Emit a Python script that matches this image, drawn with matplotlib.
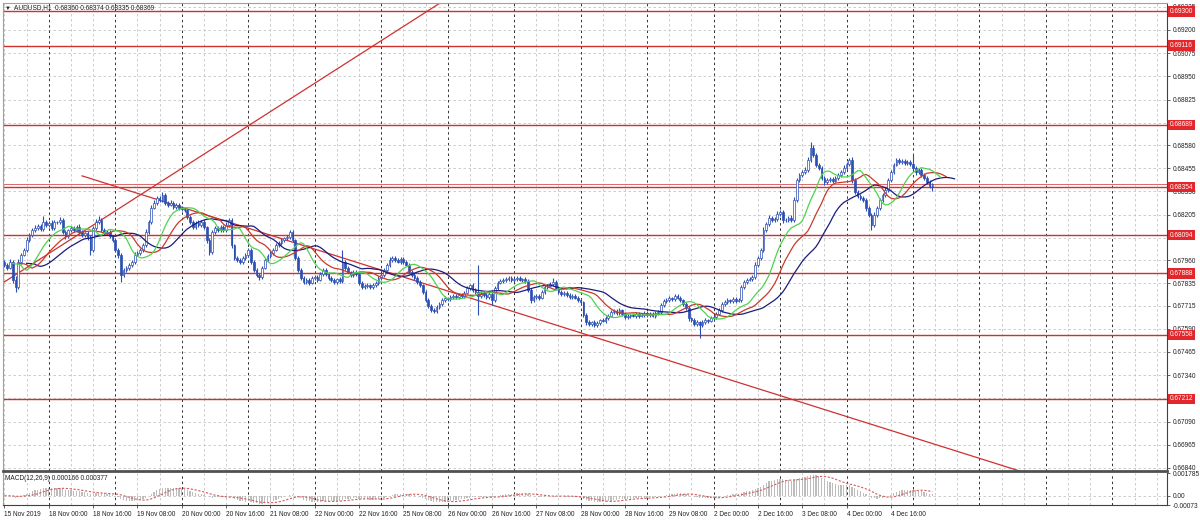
import matplotlib
matplotlib.use("Agg")
import matplotlib.pyplot as plt
import numpy as np
import pandas as pd

plt.rcParams['font.family'] = ['Liberation Sans', 'DejaVu Sans']

symbol_text = "AUDUSD,H1  0.68360 0.68374 0.68335 0.68369"
macd_text = "MACD(12,26,9) 0.000166 0.000377"

# hourly closes in points (1 point = 0.00001), 15 Nov 08:00 .. 5 Dec 07:00
first_open = 67950
close_pts = [
    # 15 Nov
    67934, 67918, 67950, 67853, 67815, 67950, 67988, 68015, 68068, 68095, 68122, 68133, 68144, 68127, 68165, 68149,
    # 18 Nov
    68160, 68133, 68165, 68165, 68176, 68111, 68090, 68122, 68133, 68122, 68138, 68111, 68095, 68106, 68084, 68015,
    68133, 68165, 68176, 68122, 68106, 68111, 68090, 68068,
    # 19 Nov
    68015, 67988, 67880, 67907, 67918, 67934, 67950, 67988, 67999, 68015, 68041, 68111, 68165, 68241, 68268, 68295,
    68284, 68311, 68268, 68257, 68268, 68246, 68257, 68241,
    # 20 Nov
    68235, 68230, 68192, 68165, 68138, 68160, 68149, 68165, 68138, 68068, 68004, 68111, 68133, 68122, 68138, 68122,
    68149, 68176, 68041, 67972, 67961, 67950, 67972, 67988,
    # 21 Nov
    68015, 67950, 67907, 67880, 67869, 67918, 67961, 67983, 67999, 68015, 68041, 68052, 68068, 68079, 68084, 68111,
    68068, 67972, 67907, 67864, 67842, 67853, 67837, 67864,
    # 22 Nov
    67870, 67853, 67886, 67907, 67886, 67864, 67853, 67842, 67858, 67848, 67950, 67918, 67896, 67880, 67896, 67886,
    67837, 67815, 67821, 67826, 67815, 67826, 67837, 67864,
    # 25 Nov
    67880, 67907, 67934, 67961, 67972, 67961, 67950, 67966, 67950, 67934, 67896, 67880, 67864, 67842, 67826, 67788,
    67745, 67713, 67691, 67686, 67707, 67723, 67745, 67756,
    # 26 Nov
    67750, 67761, 67767, 67761, 67772, 67767, 67783, 67810, 67826, 67799, 67788, 67767, 67783, 67772, 67761, 67778,
    67745, 67810, 67837, 67848, 67853, 67858, 67864, 67853,
    # 27 Nov
    67858, 67864, 67853, 67858, 67848, 67799, 67745, 67761, 67767, 67756, 67788, 67815, 67821, 67831, 67842, 67810,
    67788, 67778, 67783, 67772, 67761, 67767, 67756, 67745,
    # 28 Nov
    67734, 67664, 67626, 67616, 67626, 67610, 67621, 67637, 67632, 67648, 67659, 67680, 67686, 67675, 67691, 67670,
    67653, 67659, 67664, 67659, 67670, 67659, 67664, 67675,
    # 29 Nov
    67664, 67670, 67659, 67675, 67680, 67718, 67740, 67745, 67756, 67750, 67767, 67756, 67745, 67723, 67702, 67648,
    67637, 67616, 67626, 67610, 67626, 67637, 67632, 67648,
    # 2 Dec
    67653, 67670, 67691, 67723, 67734, 67745, 67740, 67750, 67740, 67745, 67815, 67842, 67853, 67858, 67869, 67934,
    67972, 68015, 68122, 68154, 68187, 68176, 68181, 68208,
    # 3 Dec
    68219, 68176, 68176, 68187, 68176, 68284, 68392, 68419, 68435, 68446, 68500, 68565, 68527, 68473, 68457, 68403,
    68381, 68392, 68397, 68387, 68403, 68419, 68435, 68457,
    # 4 Dec - 5 Dec
    68479, 68500, 68392, 68327, 68306, 68295, 68284, 68241, 68203, 68149, 68203, 68241, 68284, 68311, 68338, 68392,
    68435, 68473, 68500, 68489, 68495, 68484, 68489, 68479, 68457, 68435, 68446, 68419, 68403, 68381, 68360, 68369,
]
# wick length above / below the body, in points
up_wick = [
    12, 10, 15, 8, 20, 14, 10, 12, 16, 10, 12, 14, 8, 12, 34, 10,
    10, 14, 12, 8, 15, 10, 12, 8, 10, 12, 9, 14, 10, 8, 12, 10, 12, 14, 23, 10, 12, 9, 10, 8,
    10, 8, 12, 10, 8, 12, 10, 14, 9, 12, 10, 15, 12, 18, 14, 12, 10, 16, 12, 10, 14, 9, 12, 10,
    10, 12, 8, 10, 12, 9, 14, 10, 12, 8, 10, 14, 12, 9, 10, 12, 14, 11, 10, 8, 12, 10, 9, 12,
    12, 10, 8, 10, 9, 12, 10, 8, 12, 10, 9, 12, 10, 8, 12, 11, 10, 8, 12, 10, 9, 10, 8, 12,
    10, 8, 12, 10, 9, 8, 10, 12, 8, 10, 65, 12, 10, 8, 12, 9, 10, 8, 10, 9, 8, 10, 12, 10,
    10, 12, 9, 14, 10, 8, 12, 10, 9, 10, 8, 10, 9, 8, 10, 8, 10, 9, 8, 10, 12, 9, 10, 12,
    8, 10, 9, 8, 10, 9, 12, 10, 8, 10, 9, 146, 10, 8, 9, 12, 18, 10, 12, 8, 10, 9, 12, 10,
    8, 10, 9, 8, 10, 9, 12, 10, 8, 9, 10, 12, 10, 9, 22, 10, 8, 9, 10, 8, 9, 10, 8, 9,
    10, 8, 9, 10, 8, 9, 10, 8, 12, 10, 9, 10, 8, 10, 9, 8, 10, 9, 8, 10, 9, 8, 10, 9,
    9, 10, 8, 10, 9, 12, 10, 9, 10, 8, 12, 9, 10, 8, 9, 10, 8, 10, 9, 8, 10, 9, 8, 10,
    9, 10, 12, 10, 9, 10, 8, 10, 9, 10, 12, 10, 9, 10, 12, 14, 10, 12, 16, 12, 14, 10, 12, 14,
    12, 10, 12, 10, 14, 16, 12, 10, 12, 14, 16, 32, 14, 12, 10, 12, 10, 12, 9, 10, 12, 10, 12, 14,
    12, 11, 14, 12, 10, 9, 12, 10, 12, 10, 14, 12, 10, 12, 14, 12, 10, 12, 10, 9, 12, 10, 9, 12,
    48, 12, 10, 12, 9, 10, 12, 5,
]
down_wick = [
    10, 12, 8, 14, 25, 10, 12, 8, 10, 12, 9, 10, 12, 8, 10, 12,
    10, 12, 8, 10, 9, 12, 14, 10, 8, 12, 10, 9, 12, 10, 14, 27, 10, 12, 8, 10, 12, 9, 10, 12,
    12, 14, 38, 12, 10, 9, 12, 10, 8, 12, 10, 9, 12, 10, 8, 12, 10, 9, 12, 10, 8, 12, 10, 9,
    10, 12, 9, 10, 12, 8, 10, 12, 9, 14, 16, 10, 12, 8, 10, 9, 12, 10, 14, 12, 10, 9, 12, 10,
    10, 12, 9, 12, 16, 10, 8, 12, 9, 10, 8, 12, 10, 9, 8, 10, 12, 10, 12, 9, 10, 12, 10, 8,
    10, 9, 8, 10, 12, 9, 10, 8, 12, 10, 9, 10, 8, 12, 10, 9, 12, 10, 9, 10, 8, 10, 9, 10,
    9, 10, 8, 10, 9, 10, 8, 9, 10, 8, 10, 9, 10, 12, 10, 12, 10, 12, 10, 11, 9, 10, 8, 9,
    10, 8, 9, 10, 8, 9, 10, 8, 12, 10, 9, 103, 10, 9, 8, 10, 27, 9, 10, 8, 9, 10, 8, 9,
    10, 9, 8, 10, 9, 12, 14, 10, 9, 10, 8, 9, 10, 8, 9, 10, 8, 9, 10, 8, 9, 10, 8, 10,
    10, 12, 14, 10, 9, 12, 10, 9, 8, 10, 9, 8, 10, 9, 8, 10, 12, 9, 10, 8, 9, 10, 8, 9,
    10, 9, 8, 10, 9, 8, 10, 9, 8, 10, 9, 8, 10, 9, 12, 14, 12, 10, 12, 70, 10, 9, 10, 8,
    10, 9, 8, 10, 9, 8, 10, 9, 10, 8, 10, 9, 10, 8, 10, 12, 10, 12, 10, 12, 10, 9, 12, 10,
    10, 14, 12, 10, 12, 10, 12, 10, 9, 10, 12, 10, 14, 12, 10, 12, 14, 10, 9, 10, 8, 10, 9, 10,
    10, 12, 14, 12, 10, 12, 10, 14, 12, 27, 12, 10, 9, 10, 12, 10, 9, 10, 8, 10, 9, 10, 12, 10,
    12, 14, 10, 12, 10, 12, 10, 25,
]

level_lines = [0.69300, 0.69116, 0.68689, 0.68354, 0.68094, 0.67888, 0.67558, 0.67212]
bid_price = 0.68369
price_ticks = [0.69325, 0.69200, 0.69075, 0.68950, 0.68825, 0.68580, 0.68455, 0.68330, 0.68205,
               0.67960, 0.67835, 0.67715, 0.67590, 0.67465, 0.67340, 0.67090, 0.66965, 0.66840]
grid_levels = [0.69325, 0.69200, 0.69075, 0.68950, 0.68825, 0.68700, 0.68580, 0.68455, 0.68330,
               0.68205, 0.68080, 0.67960, 0.67835, 0.67715, 0.67590, 0.67465, 0.67340, 0.67215,
               0.67090, 0.66965, 0.66840]
macd_ticks = [0.001785, 0.0, -0.00073]
macd_labels = ["0.001785", "0.00", "-0.00073"]

# trend lines: (bar index, price) anchors
trend_up = ([0, 150], [0.67843, 0.69276])
trend_down = ([28, 200], [0.68414, 0.67606])

time_ticks = [0, 16, 32, 48, 64, 80, 96, 112, 128, 144, 160, 176, 192, 208, 224, 240, 256, 272, 288, 304, 320]
time_labels = ["15 Nov 2019", "18 Nov 00:00", "18 Nov 16:00", "19 Nov 08:00", "20 Nov 00:00", "20 Nov 16:00",
               "21 Nov 08:00", "22 Nov 00:00", "22 Nov 16:00", "25 Nov 08:00", "26 Nov 00:00", "26 Nov 16:00",
               "27 Nov 08:00", "28 Nov 00:00", "28 Nov 16:00", "29 Nov 08:00", "2 Dec 00:00", "2 Dec 16:00",
               "3 Dec 08:00", "4 Dec 00:00", "4 Dec 16:00"]
day_starts = [16, 40, 64, 88, 112, 136, 160, 184, 208, 232, 256, 280, 304, 328, 352, 376, 400]

close = np.array(close_pts) / 1e5
opn = np.r_[first_open / 1e5, close[:-1]]
high = np.maximum(opn, close) + np.array(up_wick) / 1e5
low = np.minimum(opn, close) - np.array(down_wick) / 1e5
idx = np.arange(len(close))


def smma(values, n):
    out = np.empty(len(values))
    out[0] = values[0]
    for t in range(1, len(values)):
        out[t] = (out[t - 1] * (n - 1) + values[t]) / n
    return out


median = (high + low) / 2
jaw = smma(median, 13)
teeth = smma(median, 8)
lips = smma(median, 5)

s = pd.Series(close)
macd = (s.ewm(span=12, adjust=False).mean() - s.ewm(span=26, adjust=False).mean()).values
signal = pd.Series(macd).rolling(9, min_periods=1).mean().values

W, H = 1200, 523
fig = plt.figure(figsize=(12, 5.23), dpi=100)
fig.patch.set_facecolor('white')
ax = fig.add_axes([3 / W, (H - 471) / H, 1164 / W, 468 / H])
ax2 = fig.add_axes([3 / W, (H - 505) / H, 1164 / W, 32 / H], sharex=ax)

xmin, xmax = -0.54, 419.7
ax.set_xlim(xmin, xmax)
ax.set_ylim(0.668238, 0.693454)
ax2.set_ylim(-0.00073, 0.001785)

grid_col = '#c4c4c4'
for a in (ax, ax2):
    for gx in range(0, 420, 8):
        if gx in day_starts:
            a.axvline(gx, color='#303030', lw=0.7, ls=(0, (2.5, 3)), zorder=1)
        else:
            a.axvline(gx, color=grid_col, lw=0.6, ls=(0, (3, 3)), zorder=0)
for lv in grid_levels:
    ax.axhline(lv, color=grid_col, lw=0.6, ls=(0, (3, 3)), zorder=0)
ax2.axhline(0.0, color=grid_col, lw=0.6, ls=(0, (3, 3)), zorder=0)

# horizontal levels and trend lines
red = '#cf3030'
for lv in level_lines:
    ax.axhline(lv, color=red, lw=1.0, zorder=2)
ax.axhline(bid_price, color='#d86a6a', lw=0.7, zorder=2)
ax.axline((trend_up[0][0], trend_up[1][0]), (trend_up[0][1], trend_up[1][1]), color=red, lw=0.9, zorder=2)
slope = (trend_down[1][1] - trend_down[1][0]) / (trend_down[0][1] - trend_down[0][0])
ax.plot([trend_down[0][0], xmax], [trend_down[1][0], trend_down[1][0] + slope * (xmax - trend_down[0][0])],
        color=red, lw=0.9, zorder=2)

# candles
blue = '#2c4fb4'
ax.vlines(idx, low, high, color=blue, lw=0.8, zorder=3)
bull = close >= opn
body_h = np.maximum(np.abs(close - opn), 0.000012)
body_b = np.minimum(opn, close)
ax.bar(idx[bull], body_h[bull], bottom=body_b[bull], width=0.62, color='white', edgecolor=blue, lw=0.5, zorder=4)
ax.bar(idx[~bull], body_h[~bull], bottom=body_b[~bull], width=0.62, color=blue, edgecolor=blue, lw=0.5, zorder=4)

# alligator
ax.plot(idx + 8, jaw, color='#1c1c7a', lw=0.9, zorder=5)
ax.plot(idx + 5, teeth, color='#c83a2a', lw=0.9, zorder=5)
ax.plot(idx + 3, lips, color='#4fd34f', lw=0.9, zorder=5)

# MACD
ax2.bar(idx, macd, width=0.45, color='#bdbdbd', zorder=2)
ax2.plot(idx, signal, color='#d65a5a', lw=0.8, ls=(0, (2, 1.5)), zorder=3)

fs = 4.7
ax.yaxis.tick_right()
ax.set_yticks(price_ticks)
ax.set_yticklabels([f"{v:.5f}" for v in price_ticks])
ax.tick_params(axis='y', labelsize=fs, length=2, width=0.5, pad=2, colors='#202020')
ax.tick_params(axis='x', bottom=False, labelbottom=False)

ax2.yaxis.tick_right()
ax2.set_yticks(macd_ticks)
ax2.set_yticklabels(macd_labels)
ax2.tick_params(axis='y', labelsize=fs, length=2, width=0.5, pad=2, colors='#202020')
ax2.set_xticks(time_ticks)
ax2.set_xticklabels(time_labels, ha='left')
ax2.tick_params(axis='x', labelsize=fs, length=2, width=0.5, pad=2, colors='#202020')

for lv in level_lines:
    ax.annotate(f"{lv:.5f}", xy=(1, lv), xycoords=ax.get_yaxis_transform(), xytext=(2.2, 0),
                textcoords='offset points', fontsize=fs, color='white', va='center', ha='left',
                bbox=dict(boxstyle='square,pad=0.25', fc='#e2262b', ec='none'), annotation_clip=False, zorder=10)

for a in (ax, ax2):
    a.set_facecolor('white')
    a.spines['left'].set_color('#a0a0a0')
    a.spines['top'].set_color('#a0a0a0')
    a.spines['right'].set_color('#404040')
    a.spines['right'].set_linewidth(0.8)
ax.spines['bottom'].set_color('#505050')
ax.spines['bottom'].set_linewidth(2.0)
ax2.spines['top'].set_visible(False)
ax2.spines['bottom'].set_color('#404040')
ax2.spines['bottom'].set_linewidth(0.8)

fig.text(5 / W, 1 - 8 / H, "\u25bc", fontsize=4.2, va='center', color='#202020')
fig.text(14 / W, 1 - 8 / H, symbol_text, fontsize=fs, va='center', color='#202020')
fig.text(5 / W, 1 - 478 / H, macd_text, fontsize=fs, va='center', color='#202020')

fig.savefig("out.png", dpi=100)
